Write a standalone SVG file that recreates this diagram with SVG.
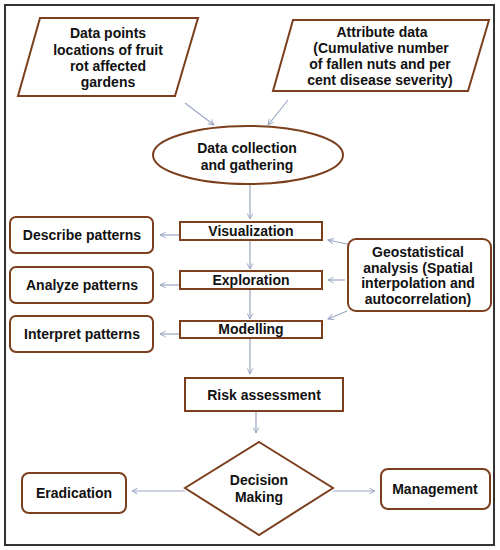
<svg xmlns="http://www.w3.org/2000/svg" width="500" height="550" viewBox="0 0 500 550">
<style>
.s{fill:#fff;stroke:#7b3f1e;stroke-width:2}
.t{font-family:"Liberation Sans",Arial,sans-serif;font-weight:bold;font-size:14px;fill:#111;text-anchor:middle}
.c{stroke:#9aa6c4;stroke-width:1.2;fill:none;marker-end:url(#a)}
</style>
<defs>
<marker id="a" viewBox="0 0 10 10" refX="9" refY="5" markerWidth="7" markerHeight="7" orient="auto" markerUnits="userSpaceOnUse">
<path d="M1,1 L9,5 L1,9" fill="none" stroke="#9aa6c4" stroke-width="1.4"/>
</marker>
</defs>
<rect x="0" y="0" width="500" height="550" fill="#fff"/>
<rect x="5" y="5" width="489" height="540" fill="none" stroke="#333" stroke-width="2"/>
<g id="connectors">
<line class="c" x1="185" y1="103" x2="214" y2="125"/>
<line class="c" x1="288" y1="100" x2="268" y2="125"/>
<line class="c" x1="250" y1="185" x2="250" y2="219"/>
<line class="c" x1="250" y1="240" x2="250" y2="269"/>
<line class="c" x1="250" y1="289" x2="250" y2="319"/>
<line class="c" x1="180" y1="235" x2="160" y2="235"/>
<line class="c" x1="180" y1="285" x2="160" y2="285"/>
<line class="c" x1="180" y1="334" x2="160" y2="334"/>
<line class="c" x1="347" y1="244" x2="328" y2="240"/>
<line class="c" x1="345" y1="280" x2="328" y2="280"/>
<line class="c" x1="347" y1="311" x2="328" y2="319"/>
<line class="c" x1="250" y1="338" x2="250" y2="374"/>
<line class="c" x1="256" y1="411" x2="256" y2="433"/>
<line class="c" x1="185" y1="491" x2="132" y2="491"/>
<line class="c" x1="333" y1="491" x2="375" y2="491"/>
</g>
<g id="n1">
<polygon class="s" points="40,18 198,18 175,96 18,96"/>
<text class="t" x="108" y="38">Data points</text>
<text class="t" x="108" y="55">locations of fruit</text>
<text class="t" x="108" y="71">rot affected</text>
<text class="t" x="108" y="87">gardens</text>
</g>
<g id="n2">
<polygon class="s" points="293,20 489,20 468,91 273,91"/>
<text class="t" x="382" y="37">Attribute data</text>
<text class="t" x="381" y="53">(Cumulative number</text>
<text class="t" x="380" y="69">of fallen nuts and per</text>
<text class="t" x="380" y="85">cent disease severity)</text>
</g>
<g id="n3">
<ellipse class="s" cx="248" cy="155" rx="95" ry="29"/>
<text class="t" x="247" y="153">Data collection</text>
<text class="t" x="247" y="170">and gathering</text>
</g>
<g id="n4">
<rect class="s" x="180" y="222" width="142" height="18"/>
<text class="t" x="251" y="236">Visualization</text>
</g>
<g id="n5">
<rect class="s" x="180" y="271" width="142" height="18"/>
<text class="t" x="251" y="285">Exploration</text>
</g>
<g id="n6">
<rect class="s" x="180" y="321" width="142" height="17"/>
<text class="t" x="251" y="334">Modelling</text>
</g>
<g id="n7">
<rect class="s" x="10" y="217" width="143" height="36" rx="6"/>
<text class="t" x="82" y="240">Describe patterns</text>
</g>
<g id="n8">
<rect class="s" x="10" y="267" width="143" height="36" rx="6"/>
<text class="t" x="82" y="290">Analyze patterns</text>
</g>
<g id="n9">
<rect class="s" x="10" y="316" width="143" height="36" rx="6"/>
<text class="t" x="82" y="339">Interpret patterns</text>
</g>
<g id="n10">
<rect class="s" x="348" y="239" width="143" height="72" rx="8"/>
<text class="t" x="418" y="257">Geostatistical</text>
<text class="t" x="418" y="273">analysis (Spatial</text>
<text class="t" x="418" y="288">interpolation and</text>
<text class="t" x="418" y="304">autocorrelation)</text>
</g>
<g id="n11">
<rect class="s" x="185" y="378" width="158" height="33"/>
<text class="t" x="264" y="400">Risk assessment</text>
</g>
<g id="n12">
<polygon class="s" points="259,442 333,488 259,535 185,488"/>
<text class="t" x="259" y="485">Decision</text>
<text class="t" x="259" y="502">Making</text>
</g>
<g id="n13">
<rect class="s" x="22" y="473" width="104" height="40" rx="7"/>
<text class="t" x="74" y="498">Eradication</text>
</g>
<g id="n14">
<rect class="s" x="381" y="469" width="109" height="40" rx="7"/>
<text class="t" x="435" y="494">Management</text>
</g>
</svg>
